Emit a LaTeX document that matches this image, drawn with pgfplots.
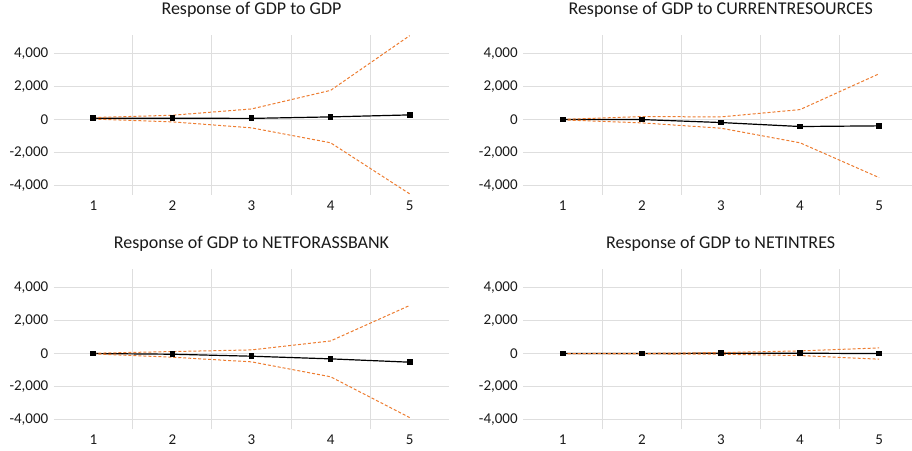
\documentclass[border=0pt]{standalone}
\usepackage{fontspec}
\setmainfont{Carlito}
\usepackage{pgfplots}
\pgfplotsset{compat=1.18}
\definecolor{band}{HTML}{ED7D31}
\definecolor{gridc}{HTML}{DEDEDE}
\definecolor{zeroc}{HTML}{C4C4C4}
\definecolor{txt}{HTML}{1A1A1A}
\pgfplotsset{irf/.style={
  scale only axis, height=160pt, anchor=south west,
  xmin=0.5, ymin=-4550, ymax=5100,
  xtick={1,2,3,4,5}, minor xtick={1.5,2.5,3.5,4.5},
  ytick={-4000,-2000,0,2000,4000},
  yticklabels={{-4,000},{-2,000},0,{2,000},{4,000}},
  xticklabels={1,2,3,4,5},
  xminorgrids, ymajorgrids,
  minor grid style={gridc, line width=1pt},
  major grid style={gridc, line width=1pt},
  axis line style={draw=none},
  major tick length=0pt, minor tick length=0pt,
  tick label style={font=\fontsize{15}{18}\selectfont, text=txt},
  yticklabel style={xshift=-2pt},
  xticklabel style={yshift=-2pt},
  extra y ticks={0}, extra y tick labels={},
  extra y tick style={grid style={zeroc, line width=1.6pt}},
  clip=false,
},
resp/.style={black, line width=1.2pt, mark=square*, mark size=2.3pt},
bnd/.style={band, dash pattern=on 3pt off 2pt, line width=1pt, mark=none},
}
\begin{document}
\begin{tikzpicture}
\useasboundingbox (0,0) rectangle (912pt,450pt);
\tikzset{ttl/.style={font=\fontsize{18}{21}\selectfont, text=txt}}
% Panel 1
\begin{axis}[irf, at={(53.8pt,255pt)}, width=395.4pt, xmax=5.5]
\addplot[resp] coordinates {(1,80)(2,80)(3,70)(4,160)(5,280)};
\addplot[bnd] coordinates {(1,120)(2,260)(3,640)(4,1760)(5,5060)};
\addplot[bnd] coordinates {(1,30)(2,-140)(3,-500)(4,-1400)(5,-4480)};
\end{axis}
\node[ttl] at (251.5pt,440.5pt) {Response of GDP to GDP};
% Panel 2
\begin{axis}[irf, at={(523.2pt,255pt)}, width=388.3pt, xmax=5.41]
\addplot[resp] coordinates {(1,0)(2,0)(3,-180)(4,-420)(5,-380)};
\addplot[bnd] coordinates {(1,10)(2,180)(3,160)(4,600)(5,2760)};
\addplot[bnd] coordinates {(1,-20)(2,-200)(3,-520)(4,-1400)(5,-3500)};
\end{axis}
\node[ttl] at (720.7pt,440.5pt) {Response of GDP to CURRENTRESOURCES};
% Panel 3
\begin{axis}[irf, at={(53.8pt,21pt)}, width=395.4pt, xmax=5.5]
\addplot[resp] coordinates {(1,0)(2,-40)(3,-160)(4,-320)(5,-520)};
\addplot[bnd] coordinates {(1,20)(2,120)(3,220)(4,760)(5,2900)};
\addplot[bnd] coordinates {(1,-20)(2,-220)(3,-500)(4,-1400)(5,-3860)};
\end{axis}
\node[ttl] at (251.5pt,206.7pt) {Response of GDP to NETFORASSBANK};
% Panel 4
\begin{axis}[irf, at={(523.2pt,21pt)}, width=388.3pt, xmax=5.41]
\addplot[resp] coordinates {(1,0)(2,0)(3,20)(4,20)(5,0)};
\addplot[bnd] coordinates {(1,0)(2,10)(3,60)(4,160)(5,340)};
\addplot[bnd] coordinates {(1,0)(2,-20)(3,-40)(4,-120)(5,-340)};
\end{axis}
\node[ttl] at (720.7pt,206.7pt) {Response of GDP to NETINTRES};
\end{tikzpicture}
\end{document}
